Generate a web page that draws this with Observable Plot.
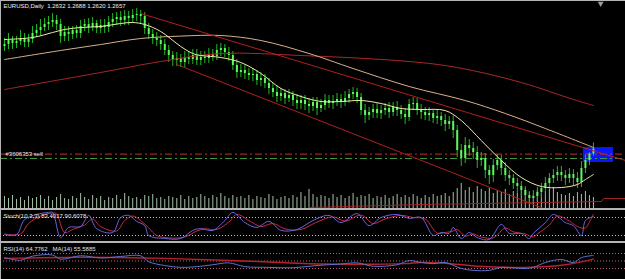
<!DOCTYPE html>
<html><head><meta charset="utf-8">
<script src="https://cdn.jsdelivr.net/npm/d3@7"></script>
<script src="https://cdn.jsdelivr.net/npm/@observablehq/plot@0.6"></script>
<style>
body{margin:0;background:#000;}
#chart{position:relative;width:625px;height:279px;background:#000;overflow:hidden;}
.sep{position:absolute;left:0;width:625px;background:#b4b4b4;}
</style></head><body><div id="chart"></div>
<script>
// ---------- DATA ----------
const titleText = "EURUSD,Daily  1.2632 1.2688 1.2620 1.2657";
const orderLabel = "#3606353 sell";
const stochLabel = "Stoch(10,3,3) 83.4017 90.6078";
const rsiLabel = "RSI(14) 64.7762   MA(14) 55.5885";

const firstOpen = 1.3170;
const closes = [1.3180,1.3200,1.3185,1.3195,1.3210,1.3190,1.3205,
1.3235,1.3250,1.3265,1.3280,
1.3290,1.3300,1.3280,
1.3220,
1.3240,1.3230,1.3250,1.3235,
1.3270,1.3280,1.3265,1.3285,
1.3260,1.3275,1.3265,1.3290,
1.3305,1.3315,1.3300,1.3320,
1.3310,1.3325,1.3330,1.3320,
1.3260,
1.3230,1.3210,1.3200,
1.3180,1.3150,1.3125,
1.3100,1.3110,1.3090,
1.3115,1.3105,1.3125,1.3100,
1.3115,1.3110,1.3130,1.3120,
1.3150,1.3160,1.3140,1.3125,
1.3075,1.3040,1.3050,
1.3035,1.3025,1.3030,
1.3000,1.3010,1.2985,1.2960,
1.2940,1.2920,1.2935,1.2910,
1.2925,1.2900,1.2885,
1.2900,1.2880,1.2870,1.2890,
1.2860,1.2875,1.2900,1.2885,
1.2895,1.2905,1.2890,1.2910,
1.2930,1.2940,1.2915,
1.2850,1.2825,1.2840,1.2855,
1.2835,1.2850,1.2860,1.2840,
1.2865,1.2850,1.2830,1.2815,
1.2880,1.2885,1.2850,1.2840,
1.2825,1.2835,1.2810,1.2820,
1.2800,1.2780,1.2795,1.2750,
1.2650,1.2610,1.2675,
1.2660,1.2640,1.2600,
1.2610,1.2550,1.2525,1.2575,
1.2600,1.2560,1.2525,1.2510,
1.2485,1.2470,1.2450,1.2425,
1.2410,1.2420,1.2440,
1.2460,1.2485,1.2510,1.2525,
1.2540,1.2525,1.2510,1.2530,
1.2510,1.2490,1.2560,
1.2600,1.2632,1.2657];
const highs = [1.3210,1.3235,1.3220,1.3220,1.3250,1.3235,1.3230,
1.3270,1.3280,1.3305,1.3310,
1.3320,1.3335,1.3325,
1.3305,
1.3270,1.3270,1.3270,1.3275,
1.3300,1.3305,1.3310,1.3315,
1.3300,1.3305,1.3305,1.3320,
1.3335,1.3340,1.3345,1.3350,
1.3345,1.3355,1.3360,1.3350,
1.3340,
1.3285,1.3255,1.3240,
1.3225,1.3205,1.3175,
1.3145,1.3140,1.3130,
1.3145,1.3145,1.3155,1.3155,
1.3145,1.3145,1.3160,1.3155,
1.3180,1.3185,1.3180,1.3165,
1.3145,1.3105,1.3080,
1.3075,1.3060,1.3060,
1.3050,1.3040,1.3030,1.3010,
1.2985,1.2970,1.2960,1.2955,
1.2955,1.2945,1.2930,
1.2925,1.2925,1.2910,1.2915,
1.2915,1.2905,1.2930,1.2925,
1.2925,1.2935,1.2930,1.2945,
1.2955,1.2965,1.2960,
1.2935,1.2880,1.2865,1.2880,
1.2885,1.2875,1.2885,1.2890,
1.2890,1.2895,1.2875,1.2860,
1.2905,1.2915,1.2910,1.2880,
1.2865,1.2865,1.2855,1.2850,
1.2840,1.2830,1.2820,1.2825,
1.2775,1.2680,1.2715,
1.2705,1.2690,1.2670,
1.2640,1.2635,1.2575,1.2605,
1.2630,1.2625,1.2590,1.2550,
1.2530,1.2510,1.2495,1.2470,
1.2445,1.2450,1.2465,
1.2485,1.2515,1.2535,1.2555,
1.2570,1.2570,1.2550,1.2560,
1.2555,1.2540,1.2595,
1.2625,1.2640,1.2688];
const lows = [1.3145,1.3155,1.3155,1.3160,1.3175,1.3165,1.3165,
1.3185,1.3215,1.3225,1.3245,
1.3250,1.3265,1.3250,
1.3185,
1.3195,1.3195,1.3205,1.3210,
1.3210,1.3245,1.3235,1.3245,
1.3235,1.3235,1.3235,1.3240,
1.3265,1.3275,1.3270,1.3275,
1.3275,1.3285,1.3295,1.3285,
1.3230,
1.3205,1.3180,1.3170,
1.3150,1.3125,1.3090,
1.3070,1.3070,1.3065,
1.3065,1.3080,1.3080,1.3075,
1.3075,1.3085,1.3085,1.3095,
1.3100,1.3120,1.3115,1.3095,
1.3050,1.3010,1.3015,
1.3005,1.3000,1.2995,
1.2975,1.2970,1.2960,1.2930,
1.2915,1.2890,1.2895,1.2880,
1.2890,1.2870,1.2855,
1.2855,1.2850,1.2835,1.2845,
1.2825,1.2840,1.2850,1.2860,
1.2855,1.2870,1.2860,1.2870,
1.2885,1.2905,1.2885,
1.2825,1.2785,1.2800,1.2810,
1.2810,1.2805,1.2825,1.2810,
1.2820,1.2820,1.2805,1.2780,
1.2795,1.2850,1.2825,1.2805,
1.2800,1.2795,1.2785,1.2780,
1.2770,1.2745,1.2755,1.2710,
1.2615,1.2570,1.2585,
1.2620,1.2605,1.2560,
1.2570,1.2510,1.2480,1.2490,
1.2550,1.2525,1.2495,1.2475,
1.2455,1.2435,1.2420,1.2390,
1.2380,1.2380,1.2395,
1.2410,1.2435,1.2455,1.2485,
1.2495,1.2495,1.2475,1.2485,
1.2475,1.2460,1.2465,
1.2535,1.2575,1.2620];
// tick volume (thousands)
const volumeK = [12,10,13,9,11,8,12,10,11,13,
9,12,8,11,14,10,9,12,10,15,
11,9,13,10,12,8,11,10,13,9,
15,12,10,11,9,13,12,14,10,11,
9,12,11,10,13,9,12,10,11,14,
12,10,13,11,15,12,10,13,11,12,
10,13,9,12,11,10,14,12,9,11,
12,10,13,11,16,12,19,14,11,13,
12,10,14,11,13,10,12,15,11,13,
12,14,10,12,11,13,10,12,14,11,
13,11,14,12,10,13,11,14,12,13,
15,12,16,20,25,18,21,16,22,19,
17,20,15,18,16,19,14,17,15,18,
20,16,14,18,15,17,19,21,16,14,
13,15,12,16,14,17,13,11];

// moving averages (bar index, value)
const fastMaIdx = [0,7,12,15,19,24,29,32,35,39,44,47,49,54,59,64,69,74,79,84,89,94,99,104,110,114,119,124,129,134,139,143,145,147];
const fastMaVal = [1.3205,1.3215,1.3240,1.3255,1.3265,1.3270,1.3285,1.3290,1.3280,1.3245,1.3170,1.3135,1.3125,1.3115,1.3090,1.3035,1.2960,1.2920,1.2895,1.2895,1.2900,1.2885,1.2860,1.2855,1.2850,1.2800,1.2700,1.2600,1.2515,1.2470,1.2465,1.2480,1.2505,1.2530];
const slowMaIdx = [0,14,24,34,44,54,64,76,87,101,115,125,135,147];
const slowMaVal = [1.3105,1.3150,1.3180,1.3210,1.3222,1.3225,1.3200,1.3135,1.3060,1.2970,1.2900,1.2835,1.2760,1.2665];
const longMaIdx = [0,24,39,54,74,101,113,129,142,147];
const longMaVal = [1.2955,1.3040,1.3095,1.3135,1.3125,1.3095,1.3065,1.2990,1.2905,1.2875];

// trend lines
const upperTrendIdx = [34,155];
const upperTrendVal = [1.3335,1.2600];
const lowerTrendIdx = [43,137];
const lowerTrendVal = [1.3080,1.2341];

// order lines and box
const sellPrice = 1.2632;
const targetPrice = 1.2610;
const boxIdx = [144.5,152];
const boxVal = [1.2665,1.2590];
const shiftIndex = 148.8;

// red line in volume area
const volLineIdx = [76,104,134,149,149.5,155];
const volLineVal = [1,4,6,7,10,10];

// stochastic
const stochKIdx = [0,3,5,8,11,12,14,16,19,21,23,27,29,31,33,35,36,40,44,47,49,52,55,57,60,63,66,69,73,77,81,84,88,91,94,98,101,104,107,109,111,112,114,116,118,121,124,126,129,131,132,135,137,140,142,144,145,147];
const stochKVal = [23,23,73,90,97,97,13,47,50,87,43,30,80,87,67,53,20,10,10,37,43,37,70,97,63,47,67,37,40,70,87,63,93,53,80,90,77,80,20,30,27,47,10,30,13,7,57,27,27,10,27,63,90,63,53,20,70,83];
const stochDIdx = [0,4,6,9,12,13,15,17,20,22,24,28,30,32,34,36,38,41,45,48,50,53,56,58,61,64,67,70,74,78,82,85,89,92,95,99,102,105,108,110,112,113,115,117,119,122,125,127,130,132,133,136,138,141,143,145,146,147];
const stochDVal = [25,25,60,85,95,92,30,40,55,75,50,35,70,85,70,45,20,12,15,35,42,40,65,90,70,50,60,42,40,65,82,68,88,60,75,87,80,75,28,30,35,40,18,25,15,12,45,32,25,15,25,55,85,68,50,45,65,91];
const stochLevels = [20,80];

// RSI
const rsiIdx = [0,4,7,12,14,19,24,29,34,36,40,44,48,52,56,60,66,72,78,84,88,92,98,101,104,107,110,114,117,121,124,130,132,135,139,142,144,147];
const rsiVal = [59,52,63,66,55,64,58,62,64,48,38,33,35,40,45,35,33,32,38,42,45,36,40,51,46,43,46,30,25,25,33,30,33,46,54,46,59,65];
const rsiMaIdx = [0,20,40,60,80,100,104,110,118,130,140,147];
const rsiMaVal = [57,60,57,50,42,43,46,44,36,33,40,55];
const rsiLevels = [30,50,70];

// ---------- BUILD ----------
const bars = closes.map((c, i) => ({i, o: i === 0 ? firstOpen : closes[i-1], c, h: highs[i], l: lows[i], v: volumeK[i]}));
const pts = (ix, vals) => ix.map((x, k) => ({x, y: vals[k]}));
const font = "'Liberation Sans', Arial, sans-serif";
const base = {width: 625, marginLeft: 0, marginRight: 0,
  x: {domain: [-1, 155], axis: null},
  style: {background: "transparent", overflow: "hidden", fontFamily: font}};

const chart = document.getElementById("chart");
function place(node, top) {
  node.style.position = "absolute"; node.style.left = "0px"; node.style.top = top + "px";
  chart.appendChild(node);
}

const volPlot = Plot.plot({...base, height: 209, marginTop: 2, marginBottom: 1,
  y: {domain: [0, 206], axis: null},
  marks: [
    Plot.ruleX(bars, {x: "i", y1: 0, y2: "v", stroke: "#a6c2a6", strokeWidth: 1}),
    Plot.line(pts(volLineIdx, volLineVal), {x: "x", y: "y", stroke: "#9c2222", strokeWidth: 1})
  ]});
place(volPlot, 0);

const pricePlot = Plot.plot({...base, height: 209, marginTop: 2, marginBottom: 1,
  y: {domain: [1.2360, 1.3390], axis: null},
  marks: [
    Plot.rect([0], {x1: () => boxIdx[0], x2: () => boxIdx[1], y1: () => boxVal[0], y2: () => boxVal[1], fill: "#0a18f5"}),
    Plot.ruleY([sellPrice], {stroke: "#c03232", strokeDasharray: "7,3,2,3"}),
    Plot.ruleY([targetPrice], {stroke: "#3c9a3c", strokeDasharray: "7,3,2,3"}),
    Plot.ruleX(bars, {x: "i", y1: "l", y2: "h", stroke: "#22b822", strokeWidth: 1}),
    Plot.ruleX(bars, {x: "i", y1: "o", y2: "c", stroke: "#5cf85c", strokeWidth: 2}),
    Plot.line(pts(longMaIdx, longMaVal), {x: "x", y: "y", stroke: "#a82828", strokeWidth: 1, curve: "catmull-rom"}),
    Plot.line(pts(slowMaIdx, slowMaVal), {x: "x", y: "y", stroke: "#d8b08c", strokeWidth: 1, curve: "catmull-rom"}),
    Plot.line(pts(fastMaIdx, fastMaVal), {x: "x", y: "y", stroke: "#eeeea4", strokeWidth: 1, curve: "catmull-rom"}),
    Plot.line(pts(upperTrendIdx, upperTrendVal), {x: "x", y: "y", stroke: "#b41e1e", strokeWidth: 1, clip: true}),
    Plot.line(pts(lowerTrendIdx, lowerTrendVal), {x: "x", y: "y", stroke: "#b41e1e", strokeWidth: 1, clip: true}),
    Plot.text([titleText], {frameAnchor: "top-left", dx: 3, dy: 1, fill: "#f0f0f0", fontSize: 6}),
    Plot.text([sellPrice], {y: d => d, text: () => orderLabel, frameAnchor: "left", textAnchor: "start", dx: 5, fill: "#e6e6e6", fontSize: 6}),
    Plot.dot([shiftIndex], {x: d => d, frameAnchor: "top", symbol: "triangle", rotate: 180, r: 2.2, fill: "#9a9a9a", stroke: "none", dy: 1})
  ]});
place(pricePlot, 0);

const stochPlot = Plot.plot({...base, height: 31, marginTop: 1, marginBottom: 0,
  y: {domain: [0, 100], axis: null},
  marks: [
    Plot.ruleY(stochLevels, {stroke: "#bdbdbd", strokeDasharray: "1,2"}),
    Plot.line(pts(stochDIdx, stochDVal), {x: "x", y: "y", stroke: "#d0283c", strokeWidth: 1, curve: "catmull-rom"}),
    Plot.line(pts(stochKIdx, stochKVal), {x: "x", y: "y", stroke: "#6464e0", strokeWidth: 1, curve: "catmull-rom"}),
    Plot.text([stochLabel], {frameAnchor: "top-left", dx: 3, dy: 2, fill: "#e6e6e6", fontSize: 6})
  ]});
place(stochPlot, 210);

const rsiPlot = Plot.plot({...base, height: 39, marginTop: 0.75, marginBottom: 0.75,
  y: {domain: [0, 100], axis: null},
  marks: [
    Plot.ruleY(rsiLevels, {stroke: "#c06078", strokeDasharray: "1,2"}),
    Plot.line(pts(rsiMaIdx, rsiMaVal), {x: "x", y: "y", stroke: "#b42230", strokeWidth: 1.5, curve: "catmull-rom"}),
    Plot.line(pts(rsiIdx, rsiVal), {x: "x", y: "y", stroke: "#5a72d0", strokeWidth: 1, curve: "catmull-rom"}),
    Plot.text([rsiLabel], {frameAnchor: "top-left", dx: 3, dy: 4, fill: "#e6e6e6", fontSize: 6})
  ]});
place(rsiPlot, 241);

function sep(top, h, left, w) {
  const d = document.createElement("div");
  d.className = "sep"; d.style.top = top + "px"; d.style.height = h + "px";
  if (left !== undefined) { d.style.left = left + "px"; d.style.width = w + "px"; }
  chart.appendChild(d);
}
sep(0, 1);
sep(208, 2);
sep(241, 2);
sep(0, 279, 0, 1);
</script></body></html>
